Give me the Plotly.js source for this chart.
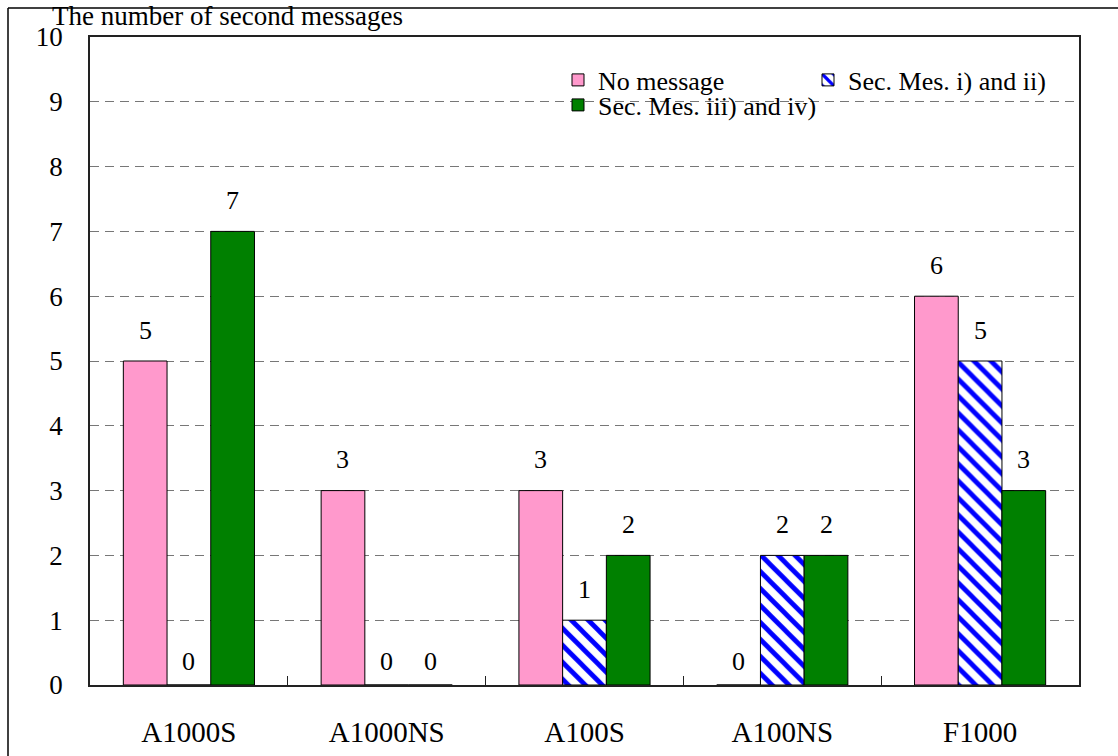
<!DOCTYPE html>
<html><head><meta charset="utf-8">
<script src="https://cdn.plot.ly/plotly-3.0.1.min.js"></script>
<style>html,body{margin:0;padding:0;background:#fff}</style>
</head><body><div id="chart" style="width:1118px;height:756px"></div>
<script>
const categories = ['A1000S', 'A1000NS', 'A100S', 'A100NS', 'F1000'];
const seriesNames = ['No message', 'Sec. Mes. i) and ii)', 'Sec. Mes. iii) and iv)'];
const noMessage = [5, 3, 3, 0, 6];
const secMesIandII = [0, 0, 1, 2, 5];
const secMesIIIandIV = [7, 0, 2, 2, 3];
const yTicks = [0,1,2,3,4,5,6,7,8,9,10];
const yTitle = 'The number of second messages';

const W = 1118, H = 756;
const M = {l: 90, r: 39, t: 37, b: 71};
const PW = W - M.l - M.r, PH = H - M.t - M.b;
const px2x = p => (p - M.l) / PW;
const py2y = p => 1 - (p - M.t) / PH;
const FONT = 'Liberation Serif';
const FS = 26;
const BARGAP = 0.337;

const series = [noMessage, secMesIandII, secMesIIIandIV];
const traces = [
  {type:'bar', name: seriesNames[0], x: categories, y: noMessage, legend:'legend',
   marker:{color:'#ff99cc', line:{color:'#000', width:1}}},
  {type:'bar', name: seriesNames[1], x: categories, y: secMesIandII, legend:'legend',
   marker:{color:'#ffffff', line:{color:'#000', width:1},
     pattern:{shape:'\\', fgcolor:'#0000ff', bgcolor:'#ffffff', size:12, solidity:0.4, fillmode:'replace'}}},
  {type:'bar', name: seriesNames[2], x: categories, y: secMesIIIandIV, legend:'legend2',
   marker:{color:'#008000', line:{color:'#000', width:1}}}
];

const barPx = PW / categories.length * (1 - BARGAP) / 3;
const annotations = [];
series.forEach((vals, j) => {
  vals.forEach((v, i) => {
    annotations.push({x: categories[i], y: v, xref:'x', yref:'y', text: String(v),
      showarrow:false, xshift:(j - 1) * barPx, yshift: v > 0 ? 31 : 24, yanchor:'middle',
      font:{family:FONT, size:FS, color:'#000'}});
  });
});
annotations.push({x: px2x(50), y: py2y(16), xref:'paper', yref:'paper', xanchor:'left', yanchor:'middle',
  text: yTitle, showarrow:false, font:{family:FONT, size:27, color:'#000'}});

const layout = {
  width: W, height: H, margin: M,
  paper_bgcolor:'#fff', plot_bgcolor:'#fff',
  barmode:'group', bargap: BARGAP, bargroupgap: 0,
  font:{family:FONT, size:FS, color:'#000'},
  xaxis:{type:'category', showline:true, mirror:true, linecolor:'#222', linewidth:1.5,
    ticks:'inside', tickson:'boundaries', ticklen:9, tickcolor:'#222', tickwidth:1,
    ticklabelstandoff: 20, showgrid:false, tickfont:{family:FONT, size:29, color:'#000'}},
  yaxis:{range:[0,10], tickvals: yTicks, showline:true, mirror:true, linecolor:'#222', linewidth:1.5,
    ticks:'', showgrid:true, gridcolor:'#777', gridwidth:1, griddash:'9px,6px',
    zeroline:false, ticklabelstandoff: 20, tickfont:{family:FONT, size:27, color:'#000'}},
  showlegend:true,
  legend:{orientation:'h', x: px2x(558), xanchor:'left', y: py2y(80), yanchor:'middle',
    entrywidth: 205, traceorder:'normal', bgcolor:'rgba(0,0,0,0)', font:{family:FONT, size:FS, color:'#000'}},
  legend2:{orientation:'h', x: px2x(558), xanchor:'left', y: py2y(105), yanchor:'middle',
    bgcolor:'rgba(0,0,0,0)', font:{family:FONT, size:FS, color:'#000'}},
  annotations: annotations,
  shapes:[
    {type:'line', xref:'paper', yref:'paper', x0: px2x(8), x1: px2x(W + 5), y0: py2y(8), y1: py2y(8), line:{color:'#000', width:1.5}},
    {type:'line', xref:'paper', yref:'paper', x0: px2x(8), x1: px2x(8), y0: py2y(8), y1: py2y(H + 5), line:{color:'#000', width:1.5}}
  ]
};
Plotly.newPlot('chart', traces, layout, {displayModeBar:false});
</script></body></html>
